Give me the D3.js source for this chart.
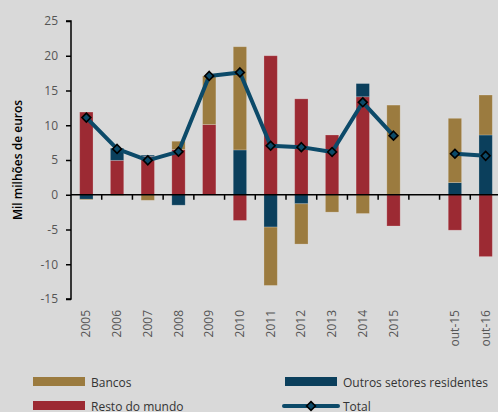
<!DOCTYPE html>
<html><head><meta charset="utf-8">
<script src="https://cdn.jsdelivr.net/npm/d3@7"></script>
<style>
html,body{margin:0;padding:0;background:#d9d9d9;}
svg{display:block;font-family:"Open Sans",sans-serif;}
</style></head>
<body><svg id="c" width="498" height="412"></svg>
<script>
const categories = ["2005","2006","2007","2008","2009","2010","2011","2012","2013","2014","2015","","out-15","out-16"];
const resto   = [11.9, 4.95, 5.5, 6.5, 10.1, -3.7, 20.0, 13.8, 8.6, 14.1, -4.5, null, -5.1, -8.9];
const outros  = [-0.65, 1.75, 0.2, -1.5, 0, 6.45, -4.65, -1.3, 0, 1.9, 0, null, 1.75, 8.6];
const bancos  = [-0.1, -0.1, -0.8, 1.2, 7.0, 14.85, -8.4, -5.8, -2.5, -2.7, 12.9, null, 9.25, 5.75];
const total   = [11.1, 6.6, 4.95, 6.2, 17.1, 17.6, 7.05, 6.85, 6.15, 13.3, 8.5, null, 5.9, 5.6];
const yTicks  = [25, 20, 15, 10, 5, 0, -5, -10, -15];
const seriesNames = ["Resto do mundo", "Outros setores residentes", "Bancos"];
const colors = {"Resto do mundo":"#9c2a33","Outros setores residentes":"#0b3f5c","Bancos":"#9b7b3f"};
const lineColor = "#0c4a69";

const svg = d3.select("#c");
const x = d3.scaleBand().domain(d3.range(categories.length)).range([71, 501]).paddingInner(0);
const y = d3.scaleLinear().domain([-15, 25]).range([299, 21]);

const rows = categories.map((c, i) => ({i, c, "Resto do mundo": resto[i] || 0, "Outros setores residentes": outros[i] || 0, "Bancos": bancos[i] || 0, total: total[i]}));
const stack = d3.stack().keys(seriesNames).offset(d3.stackOffsetDiverging);
const stacked = stack(rows);

const bw = x.bandwidth() * 0.435;
stacked.forEach(s => {
  svg.append("g").selectAll("rect").data(s.filter(d => categories[d.data.i] !== "" && d[1] !== d[0])).join("rect")
    .attr("x", d => x(d.data.i) + x.bandwidth()/2 - bw/2)
    .attr("width", bw)
    .attr("y", d => y(Math.max(d[0], d[1])))
    .attr("height", d => Math.abs(y(d[0]) - y(d[1])))
    .attr("fill", colors[s.key])
    .attr("stroke", "rgba(255,255,255,0.25)")
    .attr("stroke-width", 0.8);
});

// Y axis
const yAxis = svg.append("g").attr("transform", "translate(71,0)")
  .call(d3.axisLeft(y).tickValues(yTicks).tickSize(5).tickPadding(8).tickFormat(d3.format("d")));
yAxis.select(".domain").attr("stroke", "#000").attr("stroke-width", 1.5).attr("d", `M-5,${y(-15)}H0V${y(25)}H-5`);
yAxis.selectAll(".tick line").attr("stroke", "#000").attr("stroke-width", 1.5);
yAxis.selectAll(".tick text").attr("fill", "#555").style("font-size", "12px").style("font-family", "'Open Sans',sans-serif").text(d => d < 0 ? "-" + Math.abs(d) : d);

// X axis at zero
const xAxis = svg.append("g").attr("transform", `translate(0,${y(0)})`);
xAxis.append("line").attr("x1", 71).attr("x2", 501).attr("stroke", "#000").attr("stroke-width", 1.5);
xAxis.selectAll("line.tk").data(d3.range(1, categories.length)).join("line").attr("class", "tk")
  .attr("x1", d => x(d)).attr("x2", d => x(d)).attr("y1", 0).attr("y2", 5)
  .attr("stroke", "#000").attr("stroke-width", 1.5);

// X labels
svg.append("g").selectAll("text").data(rows).join("text")
  .attr("transform", d => `translate(${x(d.i) + x.bandwidth()/2 + 4},310) rotate(-90)`)
  .attr("text-anchor", "end")
  .attr("fill", "#555").style("font-size", "12px")
  .text(d => d.c);

// Total line
const line = d3.line().defined(d => d.total != null)
  .x(d => x(d.i) + x.bandwidth()/2).y(d => y(d.total));
svg.append("path").datum(rows).attr("d", line).attr("fill", "none")
  .attr("stroke", lineColor).attr("stroke-width", 4).attr("stroke-linejoin", "round");
const diamond = d3.symbol().type(d3.symbolDiamond2).size(50);
svg.append("g").selectAll("path").data(rows.filter(d => d.total != null)).join("path")
  .attr("transform", d => `translate(${x(d.i) + x.bandwidth()/2},${y(d.total)})`)
  .attr("d", diamond).attr("fill", lineColor).attr("stroke", "#000").attr("stroke-width", 1.6);

// Y label
svg.append("text").attr("transform", "translate(22,160) rotate(-90)")
  .attr("text-anchor", "middle").attr("fill", "#000").style("font-size", "12px").style("font-weight", "600")
  .text("Mil milhões de euros");

// Legend
const leg = svg.append("g").style("font-size", "12px").attr("fill", "#333");
const items = [
  {name: "Bancos", x: 33, y: 377, type: "rect"},
  {name: "Outros setores residentes", x: 285, y: 377, type: "rect"},
  {name: "Resto do mundo", x: 33, y: 401, type: "rect"},
  {name: "Total", x: 285, y: 401, type: "line"}
];
items.forEach(it => {
  if (it.type === "rect") {
    leg.append("rect").attr("x", it.x).attr("y", it.y).attr("width", 52).attr("height", 9).attr("fill", colors[it.name]);
  } else {
    leg.append("line").attr("x1", it.x - 1).attr("x2", it.x + 53).attr("y1", it.y + 5).attr("y2", it.y + 5)
      .attr("stroke", lineColor).attr("stroke-width", 4).attr("stroke-linecap", "round");
    leg.append("path").attr("transform", `translate(${it.x + 26},${it.y + 5})`).attr("d", diamond)
      .attr("fill", lineColor).attr("stroke", "#000").attr("stroke-width", 1.6);
  }
  leg.append("text").attr("x", it.x + 58).attr("y", it.y + 9.5).attr("fill", "#333").text(it.name);
});
</script></body></html>
